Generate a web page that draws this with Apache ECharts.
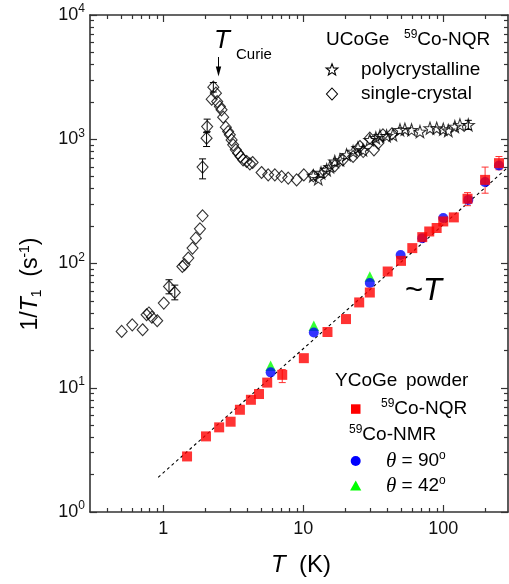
<!DOCTYPE html>
<html><head><meta charset="utf-8">
<script src="https://cdn.jsdelivr.net/npm/echarts@6/dist/echarts.min.js"></script>
<style>html,body{margin:0;padding:0;background:#fff}#c{width:509px;height:584px}</style>
</head><body><div id="c"></div>
<script>
// ---------- data ----------
const xMajor = [1, 10, 100];
const xMinor = [0.4,0.5,0.6,0.7,0.8,0.9, 2,3,4,5,6,7,8,9, 20,30,40,50,60,70,80,90, 200];
const yMajor = [1, 10, 100, 1000, 10000];
const yMinor = [2,3,4,5,6,7,8,9, 20,30,40,50,60,70,80,90, 200,300,400,500,600,700,800,900, 2000,3000,4000,5000,6000,7000,8000,9000];

// UCoGe 59Co-NQR single-crystal  [T (K), 1/T1 (s^-1)]
const singleCrystal = [
  [0.505,28.4],[0.601,32.1],[0.713,29.3],[0.761,38.7],[0.79,40],[0.83,37],[0.906,34.6],[1.01,48],
  [1.10,65.3],[1.21,58.4],[1.37,94.6],[1.42,98],[1.51,110.5],[1.62,133],[1.71,160],[1.83,190],[1.91,242],
  [1.91,597],[2.04,1020],[2.06,1265],
  [2.22,2100],[2.28,2625],[2.38,2350],[2.43,2010],[2.54,1832],[2.61,1725],[2.68,1506],[2.80,1250],
  [2.91,1153],[2.99,1085],[3.08,988],[3.16,902],[3.30,822],[3.43,773],[3.57,726],[3.72,683],[3.94,662],
  [4.16,634],[4.35,650],[5.04,540],[5.62,517],[6.27,517],[7.01,501],[7.81,487],[8.97,471],[10.1,517],
  [11.8,508],[14.3,547],[16.8,611],[19.2,683],[22.7,726],[25.4,874],[26.8,796],[29.9,1020],[32.0,822],
  [34.3,930],[37.1,1085],[43,1105]
];
// error bars [T, low, high]
const singleCrystalErr = [
  [1.10,57,74],[1.21,51,67],[1.91,480,695],[2.04,874,1130],[2.06,1150,1452],[2.28,2400,2860]
];
// UCoGe 59Co-NQR polycrystalline
const polycrystalline = [
  [11.8,508],[12.8,480],[13.4,537],[14.7,568],[15.5,600],[16.8,662],[18.3,683],[20.4,749],[22.7,796],
  [24.6,853],[26.7,822],[29.9,988],[33.0,1026],[35.3,1065],[39.4,1065],[43.7,1085],[49.1,1190],[53.2,1205],
  [59.4,1190],[68.2,1153],[80.4,1228],[89.8,1228],[100,1205],[108.6,1175],[121,1265],[131.6,1306],[151,1306]
];
const polycrystallineErr = [[151,1200,1420]];
// YCoGe powder 59Co-NQR
const ycogeNQR = [
  [1.48,2.80],[2.02,4.06],[2.51,4.80],[3.03,5.33],[3.53,6.65],[4.23,8.0],[4.83,8.90],[5.53,11.0],[7.08,12.7],
  [10.1,17.3],[14.9,28.1],[20.2,35.7],[25.1,48.6],[29.9,58.4],[40.1,86.2],[49.9,105],[60.1,133],[70.8,163],
  [79.4,181],[89.7,193],[100,218],[119,235],[149,332],[199,471],[250,642]
];
const ycogeNQRErr = [[7.08,11.0,14.0],[149,292,372],[199,368,597],[250,568,726]];
// YCoGe 59Co-NMR
const nmr90 = [[5.85,13.3],[11.9,27.8],[29.9,69.6],[49.6,117],[70.8,160],[100,232],[151,325],[199,452],[250,614]];
const nmr42 = [[5.85,15.0],[11.9,31.5],[29.9,78.6]];
// ~T guide line
const linearGuide = [[0.92,1.9],[290,595]];

// ---------- chart ----------
const FONT = 'Liberation Sans, Arial, sans-serif';
const AX = '#333';

function mkX(pos, ticks, len, line, label) {
  return {
    type: 'log', logBase: 10, min: 0.3, max: 290, position: pos, gridIndex: 0,
    axisLine: {show: line, onZero: false, lineStyle: {color: AX, width: 1.6}},
    axisTick: {show: true, inside: true, length: len, customValues: ticks, lineStyle: {color: AX, width: 1.2}},
    axisLabel: label ? {show: true, customValues: xMajor, margin: 8, fontSize: 18, fontFamily: FONT, color: '#111',
      formatter: v => String(Math.round(v))} : {show: false},
    splitLine: {show: false}, minorTick: {show: false}, axisPointer: {show: false}, silent: true
  };
}
function mkY(pos, ticks, len, line, label) {
  return {
    type: 'log', logBase: 10, min: 1, max: 10000, position: pos, gridIndex: 0,
    axisLine: {show: line, onZero: false, lineStyle: {color: AX, width: 1.6}},
    axisTick: {show: true, inside: true, length: len, customValues: ticks, lineStyle: {color: AX, width: 1.2}},
    axisLabel: label ? {show: true, customValues: yMajor, margin: 5, fontFamily: FONT, color: '#111',
      formatter: v => '{b|10}{s|' + Math.round(Math.log10(v)) + '}',
      rich: {b: {fontSize: 18, fontFamily: FONT, color: '#111'},
             s: {fontSize: 12, fontFamily: FONT, color: '#111', padding: [0, 0, 12, 0]}}} : {show: false},
    splitLine: {show: false}, minorTick: {show: false}, axisPointer: {show: false}, silent: true
  };
}

function errRender(color) {
  return function (params, api) {
    const x = api.value(0), lo = api.value(1), hi = api.value(2);
    const p1 = api.coord([x, lo]), p2 = api.coord([x, hi]);
    const w = 3.5, st = {stroke: color, lineWidth: 1};
    return {type: 'group', children: [
      {type: 'line', shape: {x1: p1[0], y1: p1[1], x2: p2[0], y2: p2[1]}, style: st},
      {type: 'line', shape: {x1: p1[0] - w, y1: p1[1], x2: p1[0] + w, y2: p1[1]}, style: st},
      {type: 'line', shape: {x1: p2[0] - w, y1: p2[1], x2: p2[0] + w, y2: p2[1]}, style: st}
    ]};
  };
}

const STAR = 'path://M0,-10L2.35,-3.24L9.51,-3.09L3.8,1.24L5.88,8.09L0,4L-5.88,8.09L-3.8,1.24L-9.51,-3.09L-2.35,-3.24Z';

function starPts(cx, cy, R, r) {
  const p = [];
  for (let i = 0; i < 10; i++) {
    const a = -Math.PI / 2 + i * Math.PI / 5, rad = i % 2 ? r : R;
    p.push([cx + rad * Math.cos(a), cy + rad * Math.sin(a)]);
  }
  return p;
}

const RICH = {
  a: {fontSize: 19, fontFamily: FONT, fill: '#000'},
  s: {fontSize: 12, fontFamily: FONT, fill: '#000', padding: [0, 0, 10, 0]},
  t: {fontSize: 21, fontFamily: 'Liberation Serif, serif', fontStyle: 'italic', fill: '#000'}
};
function txt(x, y, text, extra) {
  return {type: 'text', x: x, y: y, silent: true, z: 100,
    style: Object.assign({text: text, fill: '#000', fontFamily: FONT, fontSize: 19, align: 'left', verticalAlign: 'middle', rich: RICH}, extra || {})};
}

const graphics = [
  // axis titles
  {type: 'text', x: 31, y: 284, rotation: Math.PI / 2, silent: true,
   style: {text: '{a|1/}{i|T}{sub|1}{a|  (s}{sup|-1}{a|)}', align: 'center', verticalAlign: 'middle', fill: '#000',
     rich: {a: {fontSize: 23, fontFamily: FONT, fill: '#000'},
            i: {fontSize: 23, fontFamily: FONT, fontStyle: 'italic', fill: '#000'},
            sub: {fontSize: 14, fontFamily: FONT, fill: '#000', padding: [12, 0, 0, 0]},
            sup: {fontSize: 14, fontFamily: FONT, fill: '#000', padding: [0, 0, 12, 0]}}}},
  {type: 'text', x: 271, y: 565, silent: true,
   style: {text: '{i|T}{a|  (K)}', align: 'left', verticalAlign: 'middle', fill: '#000',
     rich: {a: {fontSize: 24, fontFamily: FONT, fill: '#000'},
            i: {fontSize: 24, fontFamily: FONT, fontStyle: 'italic', fill: '#000'}}}},
  // T_Curie annotation
  txt(214, 41, 'T', {fontSize: 26, fontStyle: 'italic'}),
  txt(236, 55, 'Curie', {fontSize: 15}),
  {type: 'line', silent: true, shape: {x1: 218.5, y1: 57, x2: 218.5, y2: 68}, style: {stroke: '#000', lineWidth: 1}},
  {type: 'polygon', silent: true, shape: {points: [[215.8, 66.5], [221.2, 66.5], [218.5, 76.5]]}, style: {fill: '#000'}},
  // ~T
  {type: 'text', x: 405, y: 291, silent: true,
   style: {text: '{a|~}{i|T}', align: 'left', verticalAlign: 'middle', fill: '#000',
     rich: {a: {fontSize: 31, fontFamily: FONT, fill: '#000'},
            i: {fontSize: 31, fontFamily: FONT, fontStyle: 'italic', fill: '#000'}}}},
  // UCoGe legend
  txt(326, 40, 'UCoGe'),
  txt(404, 40, '{s|59}{a|Co-NQR}'),
  {type: 'polygon', silent: true, shape: {points: starPts(332, 70, 6.2, 2.6)}, style: {fill: 'none', stroke: '#000', lineWidth: 1.1}},
  txt(361, 69.5, 'polycrystalline'),
  {type: 'polygon', silent: true, shape: {points: [[332, 88], [337.5, 94], [332, 100], [326.5, 94]]}, style: {fill: 'none', stroke: '#000', lineWidth: 1.1}},
  txt(361, 94, 'single-crystal'),
  // YCoGe legend
  txt(335, 381, 'YCoGe'),
  txt(406, 381, 'powder'),
  {type: 'rect', silent: true, shape: {x: 351, y: 404.3, width: 9.5, height: 9.5}, style: {fill: '#ff0000'}},
  txt(381, 409, '{s|59}{a|Co-NQR}'),
  txt(349, 435, '{s|59}{a|Co-NMR}'),
  {type: 'circle', silent: true, shape: {cx: 355.7, cy: 461, r: 5}, style: {fill: '#0000ff'}},
  txt(386, 461, '{t|θ}{a| = 90}{s|o}'),
  {type: 'polygon', silent: true, shape: {points: [[355.7, 480.5], [361.3, 490.5], [350.1, 490.5]]}, style: {fill: '#00ff00'}},
  txt(386, 486, '{t|θ}{a| = 42}{s|o}')
];

const chart = echarts.init(document.getElementById('c'), null, {renderer: 'canvas'});
chart.setOption({
  animation: false,
  backgroundColor: '#fff',
  grid: {left: 90, right: 1, top: 15, bottom: 72, outerBoundsMode: 'none', containLabel: false},
  xAxis: [mkX('bottom', xMajor, 7, true, true), mkX('bottom', xMinor, 4, false, false),
          mkX('top', xMajor, 7, true, false), mkX('top', xMinor, 4, false, false)],
  yAxis: [mkY('left', yMajor, 7, true, true), mkY('left', yMinor, 4, false, false),
          mkY('right', yMajor, 7, true, false), mkY('right', yMinor, 4, false, false)],
  series: [
    {type: 'line', name: '~T', data: linearGuide, showSymbol: false, symbol: 'none', clip: true, z: 1,
     lineStyle: {color: '#000', width: 1.1, type: [3, 3]}},
    {type: 'custom', name: 'sc err', data: singleCrystalErr, renderItem: errRender('#000'), encode: {x: 0, y: [1, 2]}, z: 2},
    {type: 'custom', name: 'poly err', data: polycrystallineErr, renderItem: errRender('#000'), encode: {x: 0, y: [1, 2]}, z: 2},
    {type: 'custom', name: 'nqr err', data: ycogeNQRErr, renderItem: errRender('#ff3030'), encode: {x: 0, y: [1, 2]}, z: 2},
    {type: 'scatter', name: 'single-crystal', data: singleCrystal, symbol: 'diamond', symbolSize: [11, 12], z: 3,
     itemStyle: {color: 'rgba(255,255,255,0)', borderColor: '#000', borderWidth: 1.1}},
    {type: 'scatter', name: 'polycrystalline', data: polycrystalline, symbol: STAR, symbolSize: 12, z: 3,
     itemStyle: {color: 'rgba(255,255,255,0)', borderColor: '#000', borderWidth: 1.1}},
    {type: 'scatter', name: 'θ = 42°', data: nmr42, symbol: 'triangle', symbolSize: 10.5, z: 4,
     itemStyle: {color: '#00ff00'}},
    {type: 'scatter', name: 'θ = 90°', data: nmr90, symbol: 'circle', symbolSize: 10, z: 5,
     itemStyle: {color: '#0000ff'}},
    {type: 'scatter', name: '59Co-NQR', data: ycogeNQR, symbol: 'rect', symbolSize: 10, z: 6,
     itemStyle: {color: '#ff0000'}}
  ],
  graphic: graphics
});
</script>
</body></html>
